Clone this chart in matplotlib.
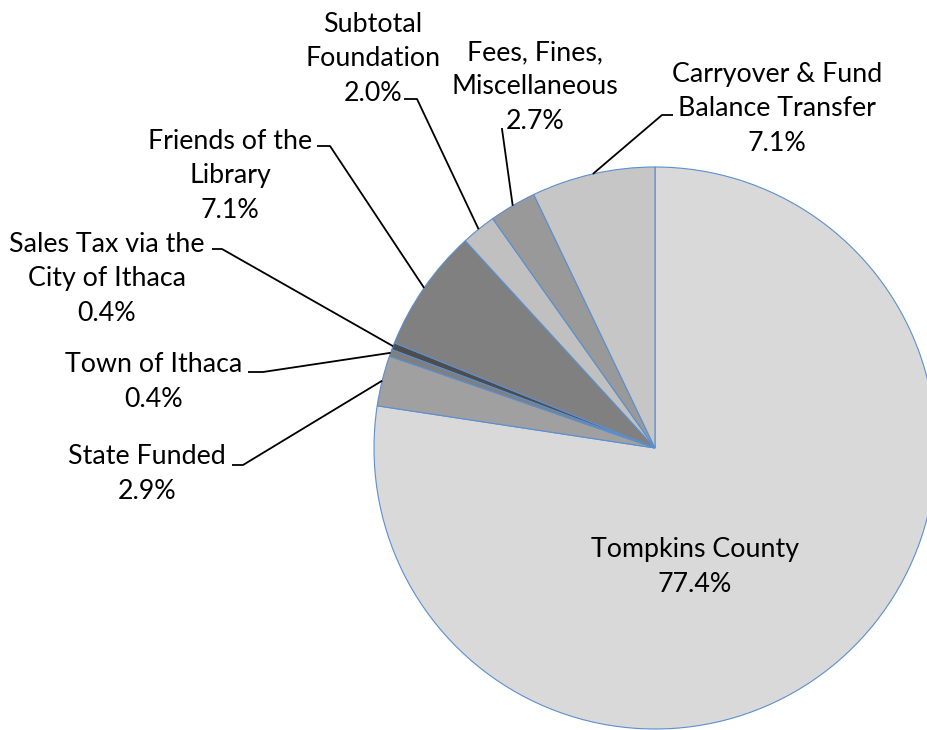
import matplotlib
matplotlib.use('Agg')
import matplotlib.pyplot as plt
import numpy as np

categories = ['Tompkins County', 'State Funded', 'Town of Ithaca',
              'Sales Tax via the\nCity of Ithaca', 'Friends of the\nLibrary',
              'Subtotal\nFoundation', 'Fees, Fines,\nMiscellaneous',
              'Carryover & Fund\nBalance Transfer']
values = [77.4, 2.9, 0.4, 0.4, 7.1, 2.0, 2.7, 7.1]
colors = ['#d9d9d9', '#a0a0a0', '#7f7f7f', '#4d4d4d', '#808080',
          '#c0c0c0', '#999999', '#c6c6c6']

W, H = 928, 730
fig = plt.figure(figsize=(9.28, 7.30), dpi=100)
ax = fig.add_axes([0, 0, 1, 1])

cx, cy, R = 655, 448, 281


def Y(y):
    return H - y


wedges, _ = ax.pie(values, colors=colors, startangle=90, counterclock=False,
                   center=(cx, Y(cy)), radius=R, frame=True,
                   explode=[0.007, 0, 0, 0, 0, 0, 0, 0],
                   wedgeprops=dict(edgecolor='#5b8fd0', linewidth=0.8))
ax.set_xlim(0, W)
ax.set_ylim(0, H)
ax.set_aspect('equal')
ax.axis('off')

# label text centres (image pixel coords) and leader elbows
label_pos = [(695, 567), (147, 474), (154, 382), (107, 279), (230, 176),
             (373, 59), (535, 87), (777, 109)]
elbows = [None,
          [(232, 465), (243, 465)],
          [(248, 372), (263, 372)],
          [(212, 249), (222, 249)],
          [(317, 146), (330, 146)],
          [(404, 99), (417, 99)],
          [(502, 128), (502, 129)],
          [(673, 115), (662, 115)]]

font = dict(family=['Lato', 'DejaVu Sans'], fontsize=19.3, color='black')

for w, cat, val, pos, el in zip(wedges, categories, values, label_pos, elbows):
    txt = f"{cat}\n{val:.1f}%"
    ax.text(pos[0], Y(pos[1]), txt, ha='center', va='center',
            linespacing=1.48, **font)
    if el is not None:
        mid = np.deg2rad((w.theta1 + w.theta2) / 2)
        px = cx + R * np.cos(mid)
        py = Y(cy) + R * np.sin(mid)
        xs = [el[0][0], el[1][0], px]
        ys = [Y(el[0][1]), Y(el[1][1]), py]
        ax.plot(xs, ys, color='black', linewidth=1.3, solid_capstyle='butt')

fig.savefig('out.png', dpi=100)
